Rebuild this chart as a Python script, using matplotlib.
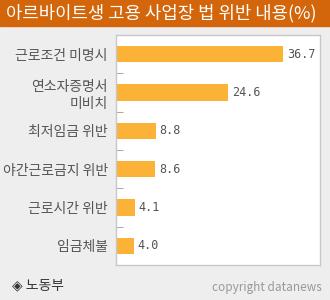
import matplotlib
matplotlib.use("Agg")
import matplotlib.pyplot as plt
from matplotlib.patches import Rectangle

plt.rcParams['font.family'] = ['Noto Sans CJK KR', 'DejaVu Sans']

# data
categories = ["근로조건 미명시", "연소자증명서\n미비치", "최저임금 위반",
              "야간근로금지 위반", "근로시간 위반", "임금체불"]
values = [36.7, 24.6, 8.8, 8.6, 4.1, 4.0]
value_labels = ["36.7", "24.6", "8.8", "8.6", "4.1", "4.0"]
title = "아르바이트생 고용 사업장 법 위반 내용(%)"
source = "◈ 노동부"
credit = "copyright datanews"

W, H = 330, 300
fig = plt.figure(figsize=(3.3, 3.0), dpi=100)
fig.patch.set_facecolor('#eeeeee')

# title bar
fig.patches.append(Rectangle((0, 1 - 26 / H), 1, 26 / H, transform=fig.transFigure,
                             color='#d3660a', zorder=0))
fig.text(6 / W, 1 - 13 / H, title, color='white', fontsize=12.8, va='center', ha='left')

# plot box
ax = fig.add_axes([116 / W, 1 - 265 / H, (320 - 116) / W, (265 - 35) / H])
ax.set_facecolor('white')
for s in ax.spines.values():
    s.set_color('#c8c8c8')
    s.set_linewidth(1)

n = len(categories)
pos = list(range(n))
ax.barh(pos, values, height=0.42, color='#fbb237')
ax.set_ylim(n - 0.5, -0.5)
ax.set_xlim(0, 44.8)
ax.set_xticks([])
ax.set_yticks(pos)
ax.set_yticklabels(categories, fontsize=10, color='#555555', linespacing=1.25)
ax.tick_params(axis='y', length=0, pad=6)
ax.set_yticks([p + 0.5 for p in pos[:-1]], minor=True)
ax.tick_params(axis='y', which='minor', direction='in', length=5, color='#999999')

for p, v, lab in zip(pos, values, value_labels):
    ax.text(v + 0.8, p, lab, va='center', ha='left', fontsize=8.5,
            color='#555555', family='DejaVu Sans Mono')

fig.text(12 / W, 1 - 285 / H, source, fontsize=10, color='#333333', va='center', ha='left')
fig.text(322 / W, 1 - 288 / H, credit, fontsize=8.5, color='#999999', va='center', ha='right')

fig.savefig('out.png', dpi=100, facecolor=fig.get_facecolor())
